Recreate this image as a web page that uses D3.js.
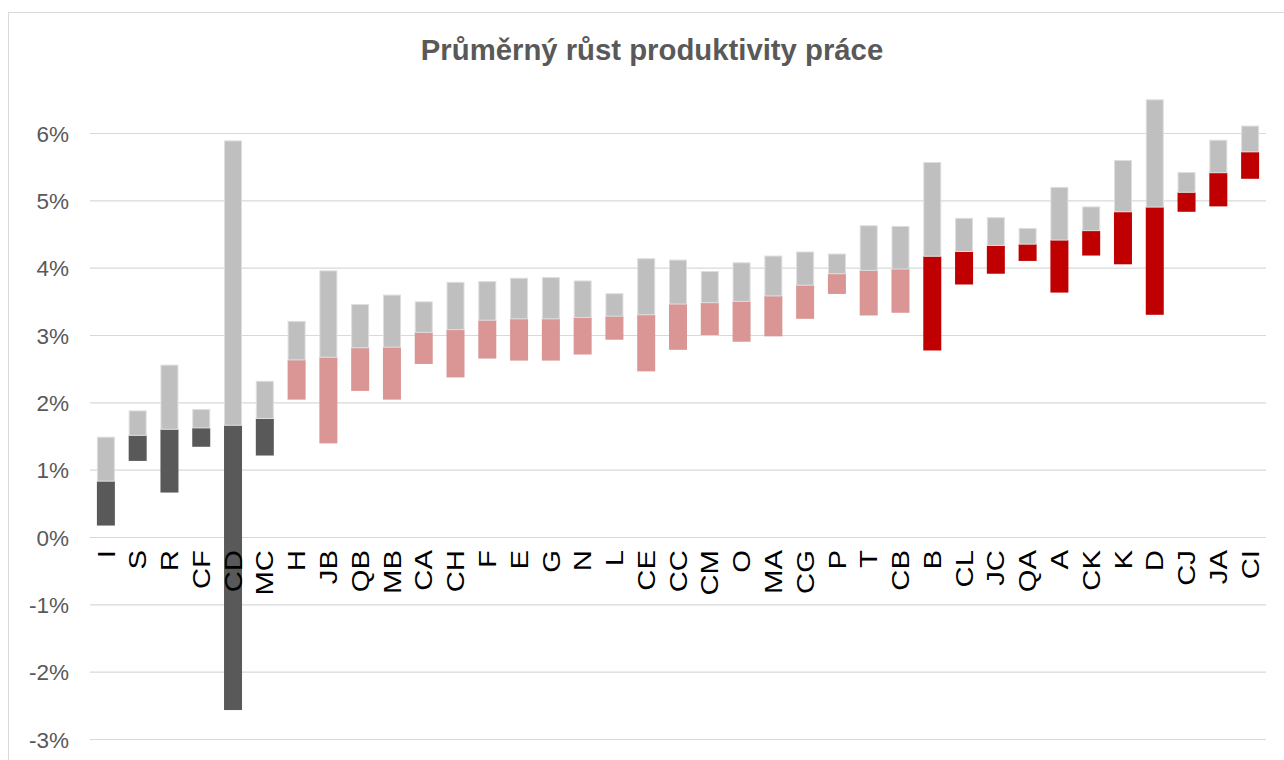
<!DOCTYPE html>
<html>
<head>
<meta charset="utf-8">
<script src="https://cdn.jsdelivr.net/npm/d3@7"></script>
<style>
  html, body { margin: 0; padding: 0; background: #ffffff; }
  svg { display: block; font-family: "Liberation Sans", Arial, sans-serif; }
</style>
</head>
<body>
<svg id="chart" width="1284" height="760"></svg>
<script>
// ---- Data ----
const title = "Průměrný růst produktivity práce";
const categories = ["I","S","R","CF","CD","MC","H","JB","QB","MB","CA","CH","F","E","G","N","L","CE","CC","CM","O","MA","CG","P","T","CB","B","CL","JC","QA","A","CK","K","D","CJ","JA","CI"];
// lower end of the coloured bar (%)
const lowValues  = [0.17,1.13,0.66,1.34,-2.57,1.21,2.04,1.39,2.17,2.04,2.57,2.37,2.65,2.62,2.62,2.71,2.93,2.46,2.78,3.00,2.90,2.98,3.24,3.61,3.29,3.33,2.77,3.75,3.91,4.10,3.63,4.18,4.05,3.30,4.83,4.91,5.32];
// split between coloured and grey bar (%)
const midValues  = [0.83,1.51,1.60,1.62,1.66,1.76,2.63,2.67,2.81,2.82,3.04,3.08,3.22,3.24,3.24,3.26,3.28,3.30,3.46,3.48,3.50,3.58,3.74,3.91,3.96,3.98,4.17,4.24,4.33,4.35,4.41,4.55,4.83,4.90,5.12,5.41,5.72];
// upper end of the grey bar (%)
const highValues = [1.49,1.88,2.56,1.90,5.89,2.32,3.21,3.96,3.46,3.60,3.50,3.79,3.80,3.85,3.86,3.81,3.62,4.14,4.12,3.95,4.08,4.18,4.24,4.21,4.63,4.62,5.57,4.74,4.75,4.59,5.20,4.91,5.60,6.50,5.42,5.90,6.11];
// colour group of each category
const groups = ["dark","dark","dark","dark","dark","dark",
  "pink","pink","pink","pink","pink","pink","pink","pink","pink","pink","pink","pink","pink","pink","pink","pink","pink","pink","pink","pink",
  "red","red","red","red","red","red","red","red","red","red","red"];
const yTicks = [-3,-2,-1,0,1,2,3,4,5,6];

const groupColor = { dark: "#595959", pink: "#d99694", red: "#c00000" };
const greyColor = "#bfbfbf";

const rows = categories.map((c, i) => ({
  cat: c, low: lowValues[i], mid: midValues[i], high: highValues[i], group: groups[i]
}));

// ---- Layout ----
const svg = d3.select("#chart");
const plot = { left: 90, right: 1266, top: 133, bottom: 739 };

svg.append("rect").attr("x", 0).attr("y", 0).attr("width", 1284).attr("height", 760).attr("fill", "#ffffff");
// chart frame
svg.append("rect")
  .attr("x", 8.5).attr("y", 12.5).attr("width", 1300).attr("height", 800)
  .attr("fill", "none").attr("stroke", "#d9d9d9").attr("stroke-width", 1);

const x = d3.scaleBand().domain(categories).range([plot.left, plot.right])
  .paddingInner(0.434).paddingOuter(0.217);
const y = d3.scaleLinear().domain([-3, 6]).range([plot.bottom, plot.top]);

// gridlines
const yAxis = d3.axisLeft(y).tickValues(yTicks).tickFormat(d => d + "%")
  .tickSize(-(plot.right - plot.left)).tickPadding(21);
const gy = svg.append("g").attr("transform", `translate(${plot.left},0)`).call(yAxis);
gy.select(".domain").remove();
gy.selectAll(".tick line").attr("stroke", "#d9d9d9").attr("stroke-width", 1.2);
gy.selectAll(".tick text")
  .attr("fill", "#595959").attr("font-size", "22.5px").attr("dy", "0.36em");

// bars
const bars = svg.append("g");
bars.selectAll("rect.low").data(rows).join("rect")
  .attr("class", "low")
  .attr("x", d => x(d.cat)).attr("width", x.bandwidth())
  .attr("y", d => y(d.mid)).attr("height", d => y(d.low) - y(d.mid))
  .attr("fill", d => groupColor[d.group]);
bars.selectAll("rect.high").data(rows).join("rect")
  .attr("class", "high")
  .attr("x", d => x(d.cat) + 0.5).attr("width", x.bandwidth() - 1)
  .attr("y", d => y(d.high) + 0.5).attr("height", d => y(d.mid) - y(d.high) - 0.5)
  .attr("fill", greyColor).attr("stroke", "#dedede").attr("stroke-width", 1);

// category labels (rotated)
const xAxis = d3.axisBottom(x).tickSize(0).tickPadding(0);
const gx = svg.append("g").attr("transform", `translate(0,${y(0)})`).call(xAxis);
gx.select(".domain").remove();
gx.selectAll(".tick text")
  .attr("fill", "#000000").attr("font-size", "24px")
  .attr("text-anchor", "end")
  .attr("transform", "translate(0,13) rotate(-90) scale(1.22,1)")
  .attr("x", 0).attr("y", 0).attr("dy", "0.36em");

// title
svg.append("text")
  .attr("x", 652).attr("y", 60)
  .attr("text-anchor", "middle")
  .attr("font-size", "29.3px").attr("font-weight", "bold")
  .attr("fill", "#595959")
  .text(title);
</script>
</body>
</html>
